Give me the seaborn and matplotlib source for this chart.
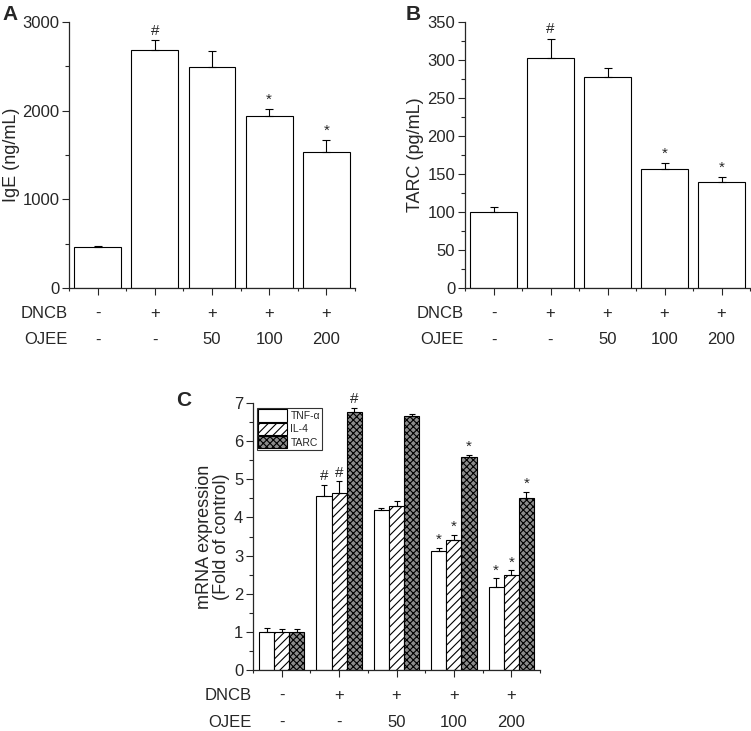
import numpy as np
import pandas as pd
import matplotlib
matplotlib.use("Agg")
import matplotlib.pyplot as plt
from matplotlib import font_manager
from matplotlib.ticker import MultipleLocator
import seaborn as sns

sns.set_style("ticks")
plt.rcParams['font.family'] = ['Liberation Sans', 'DejaVu Sans']
plt.rcParams['hatch.linewidth'] = 0.8

# tick numbers in the original look like a condensed Arial
installed = {f.name for f in font_manager.fontManager.ttflist}
if 'Liberation Sans Narrow' in installed:
    TICK_FONT, TICK_SIZE = 'Liberation Sans Narrow', 14
else:
    TICK_FONT, TICK_SIZE = 'Liberation Sans', 12

# groups (x categories) and the two treatment rows under the axis
groups = ['ctrl', 'DNCB', 'OJEE50', 'OJEE100', 'OJEE200']
dncb_row = ['-', '+', '+', '+', '+']
ojee_row = ['-', '-', '50', '100', '200']

# panel A: IgE (ng/mL)
ige_mean = [465, 2680, 2495, 1935, 1530]
ige_err = [8, 112, 178, 80, 135]
ige_mark = ['', '#', '', '*', '*']
ige_ticks = [0, 1000, 2000, 3000]

# panel B: TARC (pg/mL)
tarc_mean = [100, 303, 277, 157, 139]
tarc_err = [6, 25, 12, 7, 7]
tarc_mark = ['', '#', '', '*', '*']
tarc_ticks = [0, 50, 100, 150, 200, 250, 300, 350]

# panel C: mRNA expression (fold of control)
genes = ['TNF-α', 'IL-4', 'TARC']
tnf_mean = [1.0, 4.55, 4.20, 3.13, 2.18]
tnf_err = [0.09, 0.31, 0.06, 0.08, 0.22]
il4_mean = [1.0, 4.63, 4.31, 3.41, 2.50]
il4_err = [0.08, 0.32, 0.11, 0.12, 0.11]
tarcm_mean = [1.0, 6.76, 6.65, 5.59, 4.51]
tarcm_err = [0.07, 0.12, 0.06, 0.05, 0.16]
mrna_mark = ['', '#', '', '*', '*']
mrna_ticks = [0, 1, 2, 3, 4, 5, 6, 7]


def style_axis(ax, yticks, minor, label, label_x):
    ax.set_xlim(-0.5, 4.5)
    ax.set_ylim(0, yticks[-1])
    ax.set_yticks(yticks, [str(t) for t in yticks], fontfamily=TICK_FONT,
                  fontsize=TICK_SIZE)
    ax.yaxis.set_minor_locator(MultipleLocator(minor))
    ax.xaxis.set_minor_locator(MultipleLocator(0.5))
    ax.set_xticks(range(len(groups)))
    ax.set_xticklabels([])
    ax.set_xlabel('')
    ax.tick_params(axis='both', which='major', direction='out', length=5,
                   width=0.8, pad=2)
    ax.tick_params(axis='both', which='minor', direction='out', length=3,
                   width=0.8)
    ax.tick_params(axis='x', which='minor', length=2.5)
    for s in ['left', 'bottom']:
        ax.spines[s].set_linewidth(0.9)
    sns.despine(ax=ax)
    ax.set_ylabel(label, fontsize=13, linespacing=1.0)
    ax.yaxis.label.set_verticalalignment('center')
    ax.yaxis.set_label_coords(label_x, 0.5)
    # treatment rows
    trans = ax.get_xaxis_transform()
    ax.text(-0.52, -0.094, 'DNCB', transform=trans, ha='right', va='center',
            fontsize=12)
    ax.text(-0.52, -0.195, 'OJEE', transform=trans, ha='right', va='center',
            fontsize=12)
    for i in range(len(groups)):
        ax.text(i, -0.094, dncb_row[i], transform=trans, ha='center',
                va='center', fontsize=12)
        ax.text(i, -0.195, ojee_row[i], transform=trans, ha='center',
                va='center', fontsize=12)


def single_panel(ax, means, errs, marks, yticks, minor, label, label_x, pad):
    sns.barplot(x=groups, y=means, color='white', edgecolor='black',
                linewidth=0.8, width=0.82, errorbar=None, ax=ax)
    for p in ax.patches:
        p.set_facecolor('white')
    x = np.arange(len(groups))
    ax.errorbar(x, means, yerr=[np.zeros(len(errs)), errs], fmt='none',
                ecolor='black', elinewidth=0.8, capsize=3, capthick=0.8)
    for i in range(len(groups)):
        if marks[i]:
            ax.text(i, means[i] + errs[i] + pad, marks[i], ha='center',
                    va='bottom', fontsize=11)
    style_axis(ax, yticks, minor, label, label_x)


fig = plt.figure(figsize=(7.51, 7.31), dpi=100)
ax_a = fig.add_axes([69 / 751, 1 - 288 / 731, 286 / 751, 266 / 731])
ax_b = fig.add_axes([465 / 751, 1 - 288 / 731, 285 / 751, 266 / 731])
ax_c = fig.add_axes([253 / 751, 1 - 670 / 731, 287 / 751, 267 / 731])

single_panel(ax_a, ige_mean, ige_err, ige_mark, ige_ticks, 500,
             'IgE (ng/mL)', -0.2, 30)
single_panel(ax_b, tarc_mean, tarc_err, tarc_mark, tarc_ticks, 25,
             'TARC (pg/mL)', -0.172, 3)

# panel C, grouped bars
df = pd.DataFrame({
    'group': groups * 3,
    'gene': [g for g in genes for _ in groups],
    'value': tnf_mean + il4_mean + tarcm_mean,
})
sns.barplot(data=df, x='group', y='value', hue='gene', hue_order=genes,
            palette=['white', 'white', '#8c8c8c'], edgecolor='black',
            linewidth=0.8, width=0.79, errorbar=None, legend=False, ax=ax_c)
hatches = ['', '////', 'xxxxx']
all_means = [tnf_mean, il4_mean, tarcm_mean]
all_errs = [tnf_err, il4_err, tarcm_err]
for cont, h, m, e, g in zip(ax_c.containers, hatches, all_means, all_errs,
                            genes):
    cont.set_label(g)
    xs = []
    for bar in cont:
        bar.set_hatch(h)
        bar.set_edgecolor('black')
        xs.append(bar.get_x() + bar.get_width() / 2)
    ax_c.errorbar(xs, m, yerr=[np.zeros(len(e)), e], fmt='none',
                  ecolor='black', elinewidth=0.8, capsize=2, capthick=0.8)
    for i in range(len(groups)):
        if mrna_mark[i]:
            ax_c.text(xs[i], m[i] + e[i] + 0.03, mrna_mark[i], ha='center',
                      va='bottom', fontsize=11)
style_axis(ax_c, mrna_ticks, 0.5, 'mRNA expression\n(Fold of control)',
           -0.138)
leg = ax_c.legend(handles=ax_c.containers, labels=genes, loc='upper left',
                  bbox_to_anchor=(0.005, 0.99), fontsize=7.5, frameon=True,
                  fancybox=False, edgecolor='black', handlelength=2.8,
                  handleheight=1.5, handletextpad=0.3, borderpad=0.15,
                  labelspacing=0.05, borderaxespad=0.2)
leg.get_frame().set_linewidth(0.8)

# panel letters
fig.text(2 / 751, 1 - 14 / 731, 'A', fontsize=15, fontweight='bold',
         va='center', ha='left')
fig.text(406 / 751, 1 - 14 / 731, 'B', fontsize=15, fontweight='bold',
         va='center', ha='left')
fig.text(176 / 751, 1 - 401 / 731, 'C', fontsize=15, fontweight='bold',
         va='center', ha='left')

fig.savefig('out.png', dpi=100)
